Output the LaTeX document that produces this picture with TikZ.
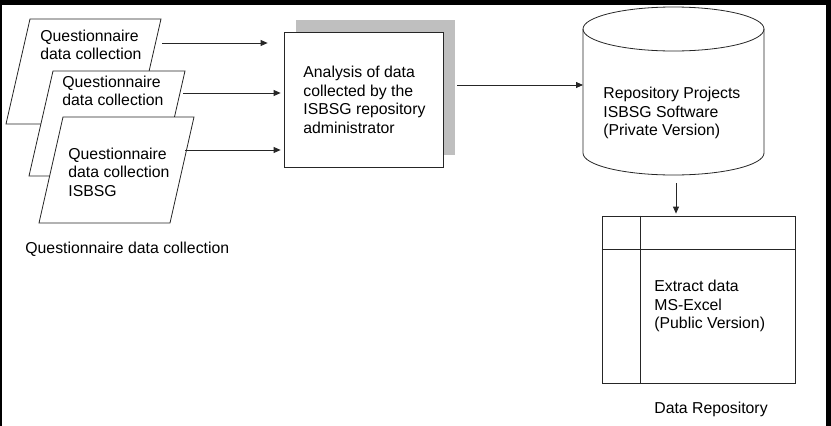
\documentclass[tikz,border=0pt]{standalone}
\usepackage{fontspec}
\setmainfont{Liberation Sans}
\usetikzlibrary{arrows.meta}

\begin{document}
\begin{tikzpicture}[x=1pt, y=-1pt, line width=0.8pt, draw=black!85,
    every node/.style={font=\fontsize{15.8}{18.6}\selectfont, align=left, inner sep=0pt},
    arr/.style={-{Triangle[length=7pt,width=6pt]}},
    form/.style={draw, fill=white}]
    \useasboundingbox (0,0) rectangle (831,426);
    % frame
    \fill (0,0) rectangle (831,5);
    \fill (0,0) rectangle (2,426);
    \fill (826,0) rectangle (831,426);

    % questionnaires
    \draw[form] (30,19) -- ++(131,0) -- ++(-24,105) -- ++(-131,0) -- cycle;
    \node[anchor=west] (q1) at (40,45) {Questionnaire\\data collection};
    \draw[form] (53,71) -- ++(132,0) -- ++(-24,105) -- ++(-132,0) -- cycle;
    \node[anchor=west] (q2) at (62,91) {Questionnaire\\data collection};
    \draw[form] (63,117) -- ++(131,0) -- ++(-24,106) -- ++(-131,0) -- cycle;
    \node[anchor=west] (q3) at (68,172) {Questionnaire\\data collection\\ISBSG};
    \node[anchor=west] (qlabel) at (25,249) {Questionnaire data collection};

    % analysis box with shadow
    \fill[black!25] (296,20) rectangle (455,155);
    \node[form, minimum width=159pt, minimum height=135pt] (analysis) at (363.5,99.5) {};
    \node[anchor=west] (analysistext) at (303,100)
        {Analysis of data\\collected by the\\ISBSG repository\\administrator};

    % repository
    \draw[fill=white] (583,29) -- (583,153) arc[start angle=180, end angle=0, x radius=90.5, y radius=22] -- (764,29);
    \draw (673.5,29) ellipse [x radius=90.5, y radius=22];
    \node[anchor=west] (repo) at (603,113) {Repository Projects\\ISBSG Software\\(Private Version)};

    % data store
    \node[draw, minimum width=193pt, minimum height=167pt] (store) at (698.5,299.5) {};
    \draw (store.west |- 0,249) -- (store.east |- 0,249);
    \draw (store.north -| 640,0) -- (store.south -| 640,0);
    \node[anchor=west] (extract) at (654,306) {Extract data\\MS-Excel\\(Public Version)};
    \node[anchor=west] (slabel) at (654,409) {Data Repository};

    % connectors
    \coordinate (q1o) at (162,43);
    \coordinate (q2o) at (183,93);
    \coordinate (q3o) at (185,150);
    \coordinate (repoin) at (583,85);
    \coordinate (repoout) at (676,183);
    \draw[arr, shorten >=16pt] (q1o) -- (q1o -| analysis.west);
    \draw[arr, shorten >=3pt] (q2o) -- (q2o -| analysis.west);
    \draw[arr, shorten >=3pt] (q3o) -- (q3o -| analysis.west);
    \draw[arr, shorten <=14pt] (analysis.east |- repoin) -- (repoin);
    \draw[arr, shorten >=2pt] (repoout) -- (repoout |- store.north);
\end{tikzpicture}
\end{document}
